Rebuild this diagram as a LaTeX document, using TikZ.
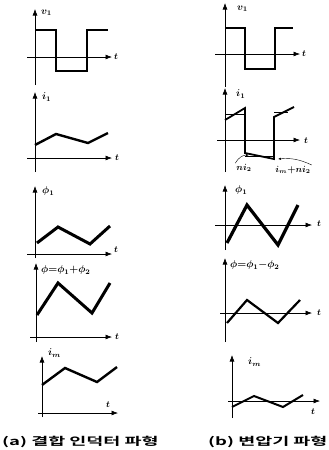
\documentclass[tikz,border=0pt]{standalone}
\usepackage{amsmath,bm}
\usepackage{fontspec}
\newfontfamily\kr{Noto Sans CJK KR}[BoldFont={* Bold}]
\usetikzlibrary{arrows.meta}

\begin{document}
\begin{tikzpicture}[
  x=1pt, y=-1pt,
  font=\normalsize,
  ax/.style={-{Latex[length=6.5pt,width=5pt]},semithick},
  wave/.style={line width=2.4pt,line join=miter},
  fine/.style={thin},
  lbl/.style={anchor=west,inner sep=1pt},
  tl/.style={inner sep=1pt,font=\small},
  capt/.style={anchor=west,inner sep=0pt,font=\kr\bfseries\fontsize{11}{13}\selectfont}
]
\useasboundingbox (0,0) rectangle (329,450);

% (a) coupled inductor
% v1
\draw[ax] (35,85) -- (35,9);
\draw[ax] (27,57) -- (112,57);
\node[tl] (ta1) at (116,57) {$\bm t$};
\node[lbl] (va) at (40,13) {$\bm{v_1}$};
\draw[wave,line width=1.8pt] (35,30) -- (56,30) -- (56,71) -- (87,71) -- (87,30) -- (108,30);
% i1
\draw[ax] (35,172) -- (35,92);
\draw[ax] (27,158) -- (112,158);
\node[tl] (ta2) at (117,158) {$\bm t$};
\node[lbl] (ia) at (41,97) {$\bm{i_1}$};
\draw[wave] (35,145) -- (56,134) -- (88,143) -- (108,133);
% phi1
\draw[ax] (35,258) -- (35,186);
\draw[ax] (27,254) -- (112,254);
\node[tl] (ta3) at (116,250) {$\bm t$};
\node[lbl] (pa) at (41,191) {$\bm{\phi_1}$};
\draw[wave,line width=3pt] (37,243) -- (58,227) -- (90,244) -- (110,226);
% phi
\draw[ax] (36,342) -- (36,263);
\draw[ax] (30,337) -- (112,337);
\node[tl] (ta4) at (117,337) {$\bm t$};
\node[lbl] (qa) at (40,270) {$\bm{\phi{=}\phi_1{+}\phi_2}$};
\draw[wave,line width=3pt] (37,315) -- (58,283) -- (92,313) -- (110,283);
% im
\draw[ax] (42,417) -- (42,356);
\draw[ax] (38,413) -- (118,413);
\node[tl] (ta5) at (108,405) {$\bm t$};
\node[lbl] (ma) at (47,353) {$\bm{i_m}$};
\draw[wave] (42,385) -- (65,368) -- (97,382) -- (117,367);

\node[capt] (capa) at (2,442) {\scalebox{1.68}[1]{(a) 결합 인덕터 파형}};

% (b) transformer
% v1
\draw[ax] (225,87) -- (225,3);
\draw[ax] (215,54) -- (300,54);
\node[tl] (tb1) at (304,54) {$\bm t$};
\node[lbl] (vb) at (236,9) {$\bm{v_1}$};
\draw[wave,line width=1.8pt] (225,28) -- (245,28) -- (245,69) -- (275,69) -- (275,28) -- (293,28);
% i1
\draw[ax] (225,172) -- (225,88);
\draw[ax] (217,140) -- (300,140);
\node[tl] (tb2) at (306,141) {$\bm t$};
\node[lbl] (ib) at (235,94) {$\bm{i_1}$};
\draw[wave,line width=1.8pt] (225,120) -- (245,108) -- (245,153) -- (274,159) -- (274,117) -- (294,107);
\draw[fine] (225,114) -- (245,114);
\draw[fine] (245,156) -- (274,156);
\draw[fine] (274,112) -- (288,112);
\node[tl] (nb) at (244,168) {$\bm{ni_2}$};
\node[tl] (mb) at (293,170) {$\bm{i_m{+}ni_2}$};
\coordinate (p1) at (249,155);
\coordinate (p2) at (278,159);
\draw[-{Latex[length=3pt]},thin] (nb.north west) to[bend left=30] (p1);
\draw[-{Latex[length=3pt]},thin] (mb.north east) to[bend right=15] (p2);
% phi1
\draw[ax] (225,250) -- (225,185);
\draw[ax] (215,225) -- (312,225);
\node[tl] (tb3) at (319,224) {$\bm t$};
\node[lbl] (pb) at (234,190) {$\bm{\phi_1}$};
\draw[wave,line width=3.2pt] (227,243) -- (247,205) -- (278,245) -- (298,205);
% phi
\draw[ax] (225,342) -- (225,258);
\draw[ax] (220,313) -- (312,313);
\node[tl] (tb4) at (319,313) {$\bm t$};
\node[lbl] (qb) at (229,265) {$\bm{\phi{=}\phi_1{-}\phi_2}$};
\draw[wave,line width=2.2pt] (227,323) -- (247,300) -- (278,323) -- (300,300);
% im
\draw[ax] (232,418) -- (232,355);
\draw[ax] (228,401) -- (320,401);
\node[tl] (tb5) at (313,412) {$\bm t$};
\node[lbl] (mb2) at (247,362) {$\bm{i_m}$};
\draw[wave,line width=2pt] (232,407) -- (254,396) -- (283,407) -- (303,395);

\node[capt] (capb) at (208,442) {\scalebox{1.68}[1]{(b) 변압기 파형}};
\end{tikzpicture}
\end{document}
